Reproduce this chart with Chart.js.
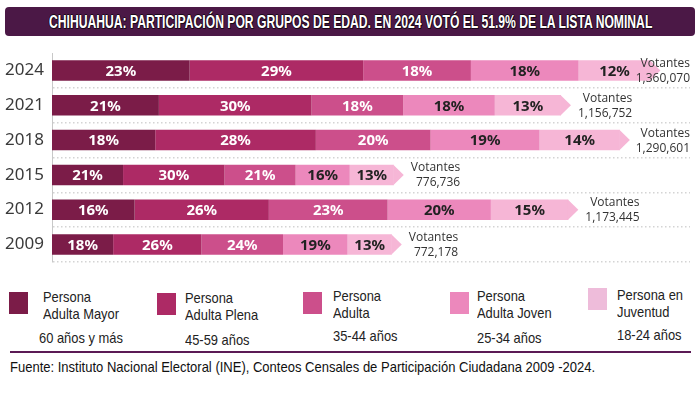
<!DOCTYPE html>
<html lang="es">
<head>
<meta charset="utf-8">
<script src="https://cdn.jsdelivr.net/npm/chart.js"></script>
<style>
  body { margin: 0; background: #fff; }
  #lienzo { position: relative; width: 700px; height: 399px; overflow: hidden; background: #fff; }
  #titulo {
    position: absolute; left: 5px; top: 7px; width: 690px; height: 29px;
    background: #4b1846; border-radius: 4px;
  }
  #titulo span {
    position: absolute; left: 44px; top: 0; color: #fff; transform-origin: 0 0;
    font: bold 18px "Liberation Sans", Arial, sans-serif; line-height: 30px; white-space: nowrap;
    text-shadow: -1px 0 #1a0818, 1px 0 #1a0818, 0 1px #1a0818, 0 -1px #1a0818, 1px 1px #1a0818;
  }
  #grafico { position: absolute; left: 0; top: 35px; }
  .cuadro { position: absolute; width: 19px; height: 22px; }
  .texto, .rango, #fuente {
    position: absolute; color: #222; white-space: nowrap; transform-origin: 0 0;
    font: 15px "Liberation Sans", Arial, sans-serif;
  }
  .texto { line-height: 17px; }
  #linea { position: absolute; left: 10px; top: 351px; width: 681px; height: 2px; background: #5b1a55; }
  #fuente { left: 10px; top: 359px; color: #111; font-size: 14.5px; }
</style>
</head>
<body>
<div id="lienzo">
  <div id="titulo"><span>CHIHUAHUA: PARTICIPACIÓN POR GRUPOS DE EDAD. EN 2024 VOTÓ EL 51.9% DE LA LISTA NOMINAL</span></div>
  <canvas id="grafico" width="700" height="245"></canvas>
  <div id="leyenda"></div>
  <div id="linea"></div>
  <div id="fuente">Fuente: Instituto Nacional Electoral (INE), Conteos Censales de Participación Ciudadana 2009 -2024.</div>
</div>
<script>
const anios = ["2024", "2021", "2018", "2015", "2012", "2009"];
const votantes = [1360070, 1156752, 1290601, 776736, 1173445, 772178];

const adultaMayor = [23, 21, 18, 21, 16, 18];
const adultaPlena = [29, 30, 28, 30, 26, 26];
const adulta = [18, 18, 20, 21, 23, 24];
const adultaJoven = [18, 18, 19, 16, 20, 19];
const juventud = [12, 13, 14, 13, 15, 13];

const grupos = [
  { nombre: "Persona\nAdulta Mayor", rango: "60 años y más", pct: adultaMayor, color: "#7b1c48", leyenda: "#7b1c48", texto: "#fff" },
  { nombre: "Persona\nAdulta Plena", rango: "45-59 años", pct: adultaPlena, color: "#ad2a65", leyenda: "#ad2a65", texto: "#fff" },
  { nombre: "Persona\nAdulta", rango: "35-44 años", pct: adulta, color: "#cc4f8b", leyenda: "#cc4f8b", texto: "#fff" },
  { nombre: "Persona\nAdulta Joven", rango: "25-34 años", pct: adultaJoven, color: "#ec88bc", leyenda: "#ec88bc", texto: "#222" },
  { nombre: "Persona en\nJuventud", rango: "18-24 años", pct: juventud, color: "#f6b6d6", leyenda: "#eebcda", texto: "#222" },
];

// el texto del original es condensado: se comprime en horizontal
function comprimir(el, factor) {
  el.style.transform = "scaleX(" + factor + ")";
}

const posLeyenda = [
  { cuadro: [9, 292], texto: [43, 288], rango: [39, 329] },
  { cuadro: [157, 293], texto: [185, 289], rango: [185, 331] },
  { cuadro: [303, 292], texto: [333, 287], rango: [333, 327] },
  { cuadro: [450, 292], texto: [477, 287], rango: [477, 329] },
  { cuadro: [588, 288], texto: [617, 286], rango: [617, 326] },
];
const leyenda = document.getElementById("leyenda");
grupos.forEach((g, i) => {
  const p = posLeyenda[i];
  leyenda.insertAdjacentHTML("beforeend",
    `<div class="cuadro" style="left:${p.cuadro[0]}px;top:${p.cuadro[1]}px;background:${g.leyenda}"></div>` +
    `<div class="texto" style="left:${p.texto[0]}px;top:${p.texto[1]}px">${g.nombre.replace("\n", "<br>")}</div>` +
    `<div class="rango" style="left:${p.rango[0]}px;top:${p.rango[1]}px">${g.rango}</div>`);
});
document.querySelectorAll(".texto, .rango").forEach((el) => comprimir(el, 0.86));

const fuente = document.getElementById("fuente");
comprimir(fuente, 585 / fuente.offsetWidth);
const titulo = document.querySelector("#titulo span");
comprimir(titulo, 603 / titulo.offsetWidth);

function sumaFila(j) {
  return grupos.reduce((s, g) => s + g.pct[j], 0);
}

const flechasYEtiquetas = {
  id: "flechasYEtiquetas",
  afterDatasetsDraw(chart) {
    const ctx = chart.ctx;
    const nUltimo = chart.data.datasets.length - 1;
    const metaUltimo = chart.getDatasetMeta(nUltimo);
    ctx.save();
    // punta de flecha
    metaUltimo.data.forEach((barra) => {
      const { x, y, height } = barra.getProps(["x", "y", "height"], true);
      ctx.fillStyle = grupos[nUltimo].color;
      ctx.beginPath();
      ctx.moveTo(x - 0.5, y - height / 2);
      ctx.lineTo(x + 10, y);
      ctx.lineTo(x - 0.5, y + height / 2);
      ctx.closePath();
      ctx.fill();
    });
    // porcentajes
    ctx.font = "bold 15px 'Noto Sans', sans-serif";
    ctx.textAlign = "center";
    ctx.textBaseline = "middle";
    chart.data.datasets.forEach((dataset, i) => {
      chart.getDatasetMeta(i).data.forEach((barra, j) => {
        const { x, y, base } = barra.getProps(["x", "y", "base"], true);
        ctx.fillStyle = grupos[i].texto;
        ctx.fillText(grupos[i].pct[j] + "%", (x + base) / 2, y + 1);
      });
    });
    // votantes
    ctx.font = "12px 'Open Sans', sans-serif";
    ctx.fillStyle = "#333";
    ctx.textAlign = "right";
    const limite = chart.chartArea.right;
    metaUltimo.data.forEach((barra, j) => {
      const { x, y } = barra.getProps(["x", "y"], true);
      const numero = votantes[j].toLocaleString("en-US");
      const ancho = Math.max(ctx.measureText("Votantes").width, ctx.measureText(numero).width);
      let izq = x + 10 + 7;
      if (izq + ancho > limite) izq = limite - ancho;
      ctx.fillText("Votantes", izq + ancho, y - 7);
      ctx.fillText(numero, izq + ancho, y + 8);
    });
    ctx.restore();
  },
};

const graficoChihuahua = new Chart(document.getElementById("grafico"), {
  type: "bar",
  data: {
    labels: anios,
    datasets: grupos.map((g) => ({
      label: g.nombre.replace("\n", " "),
      data: g.pct.map((p, j) => (p / sumaFila(j)) * votantes[j]),
      backgroundColor: g.color,
      borderWidth: 0,
      barPercentage: 0.59,
      categoryPercentage: 1,
    })),
  },
  options: {
    indexAxis: "y",
    responsive: false,
    animation: false,
    layout: { padding: { left: 0, right: 10, top: 0, bottom: 0 } },
    plugins: { legend: { display: false }, tooltip: { enabled: false }, title: { display: false } },
    scales: {
      x: { stacked: true, display: false, min: 0, max: 1450000 },
      y: {
        stacked: true,
        afterFit: (escala) => { escala.width = 52; },
        border: { display: true, color: "#c8c8c8", dash: [1.5, 2.5], width: 1 },
        grid: {
          drawTicks: false,
          lineWidth: 1.5,
          color: (c) => (c.index === 0 || c.index === 6 ? "rgba(0,0,0,0)" : "#d4d4d4"),
        },
        ticks: {
          padding: 8,
          color: "#3a3a3a",
          font: { family: "'Noto Sans', sans-serif", size: 17 },
        },
      },
    },
  },
  plugins: [flechasYEtiquetas],
});
</script>
</body>
</html>
